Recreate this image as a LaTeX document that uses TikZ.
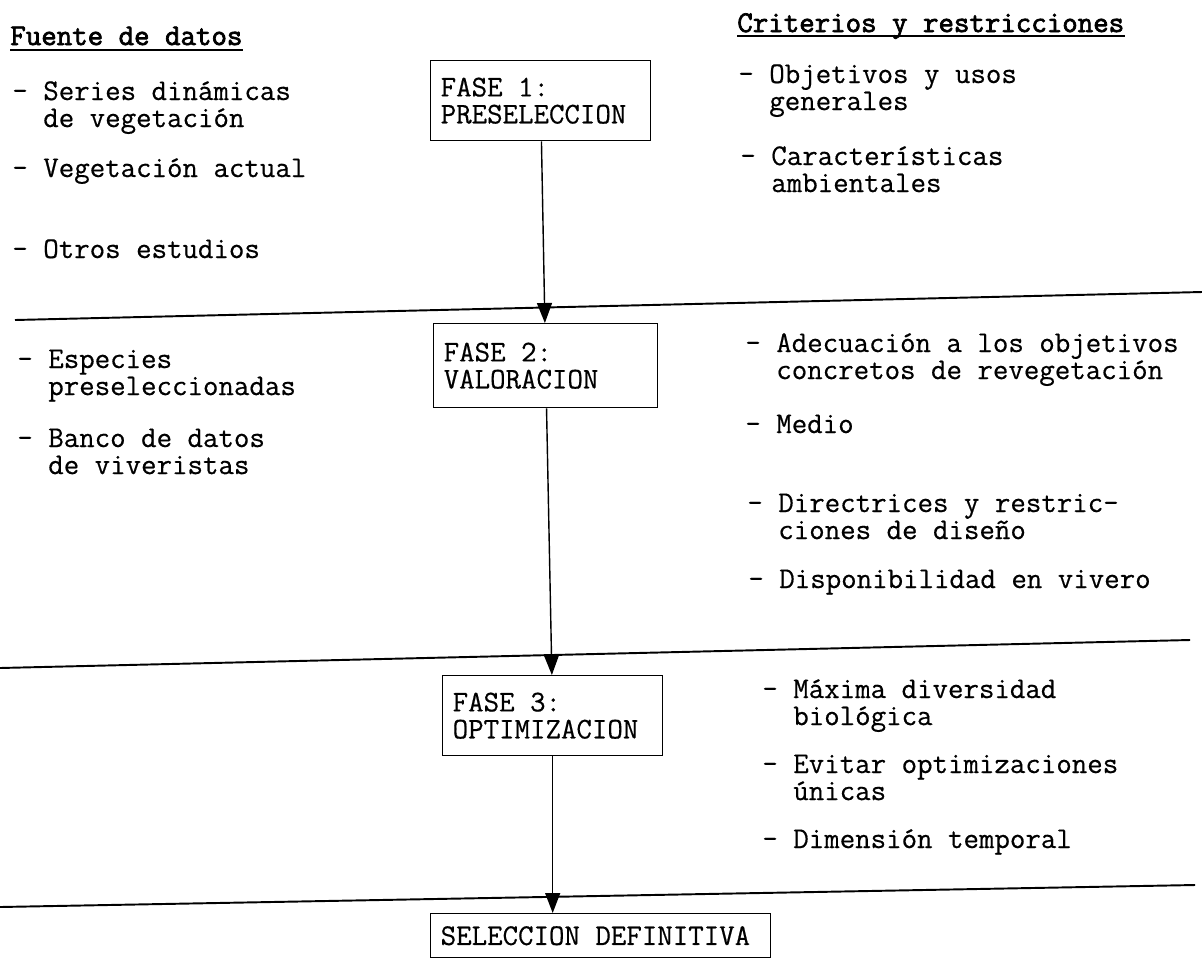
\documentclass[tikz,border=0pt]{standalone}
\usepackage{fontspec}
\newfontfamily\maquina{Latin Modern Mono}[FakeBold=0.5]
\newfontfamily\maquinanegra{Latin Modern Mono}[FakeBold=2.4]
\newcommand\sangria{\phantom{- }}
\usetikzlibrary{arrows.meta}

\begin{document}
\begin{tikzpicture}[x=0.02cm,y=-0.02cm,
    font=\maquina\fontsize{17.1}{15.4}\selectfont,
    txt/.style={anchor=base west,inner sep=0pt,align=flush left,text width=#1},
    txt/.default=8.3cm,
    hdr/.style={anchor=base west,inner sep=0pt,font=\maquinanegra\fontsize{17.1}{15.4}\selectfont},
    fase/.style={draw,line width=0.8pt,anchor=north west,inner xsep=0.2cm,inner ysep=0pt,
                 align=flush left,text width=#1},
    divisor/.style={line width=1.1pt},
    flecha/.style={line width=0.8pt,-{Triangle[length=0.4cm,width=0.3cm]}}]
    \useasboundingbox (0,0) rectangle (1202,960);

    % cabeceras
    \node[hdr] (fuente) at (10,45) {Fuente de datos};
    \node[hdr] (criterios) at (737,32) {Criterios y restricciones};
    \draw[line width=0.9pt] ([yshift=-0.1cm]fuente.base west) -- ([yshift=-0.1cm]fuente.base east);
    \draw[line width=0.9pt] ([yshift=-0.08cm]criterios.base west) -- ([yshift=-0.08cm]criterios.base east);

    % fases
    \node[fase=4cm,minimum height=1.6cm] (f1) at (430,60) {FASE 1:\\PRESELECCION};
    \node[fase=4.08cm,minimum height=1.68cm] (f2) at (433,323) {FASE 2:\\VALORACION};
    \node[fase=4cm,minimum height=1.6cm] (f3) at (442,675) {FASE 3:\\OPTIMIZACION};
    \node[fase=6.4cm,minimum height=0.88cm] (fin) at (430,913) {SELECCION DEFINITIVA};

    \draw[divisor] (15,320) -- (1202,292);
    \draw[divisor] (0,668) -- (1190,640);
    \draw[divisor] (0,907) -- (1195,885);

    \draw[flecha] (f1) -- (f2);
    \draw[flecha] (f2) -- (f3);
    \draw[flecha] (f3.south) -- (f3.south |- fin.north);

    % fuente de datos
    \node[txt] (series) at (12,100) {- Series dinámicas\\\sangria de vegetación};
    \node[txt] (actual) at (12,177) {- Vegetación actual};
    \node[txt] (otros) at (12,258) {- Otros estudios};
    \node[txt] (especies) at (17,368) {- Especies\\\sangria preseleccionadas};
    \node[txt] (banco) at (17,447) {- Banco de datos\\\sangria de viveristas};

    % criterios y restricciones
    \node[txt] (objetivos) at (738,83) {- Objetivos y usos\\\sangria generales};
    \node[txt] (caract) at (740,165) {- Características\\\sangria ambientales};
    \node[txt=8.9cm] (adecuacion) at (745,352) {- Adecuación a los objetivos\\\sangria concretos de revegetación};
    \node[txt] (medio) at (745,433) {- Medio};
    \node[txt] (directrices) at (747,512) {- Directrices y restric-\\\sangria ciones de diseño};
    \node[txt] (dispon) at (748,588) {- Disponibilidad en vivero};
    \node[txt] (maxima) at (762,698) {- Máxima diversidad\\\sangria biológica};
    \node[txt] (evitar) at (762,773) {- Evitar optimizaciones\\\sangria únicas};
    \node[txt] (dimension) at (762,848) {- Dimensión temporal};
\end{tikzpicture}
\end{document}
